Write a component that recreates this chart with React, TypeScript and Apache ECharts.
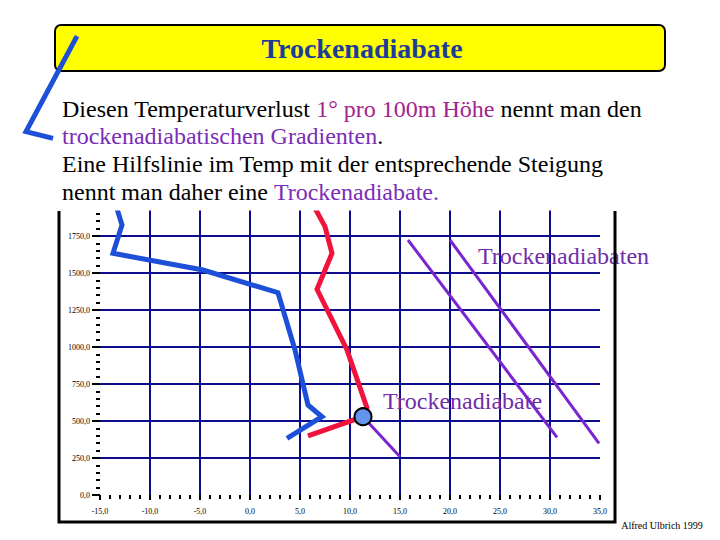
import React, { useEffect, useRef } from "react";
import * as echarts from "echarts";

// Temperature axis (°C) and height axis (m)
const xTicks = { min: -15, max: 35, interval: 5 };
const yTicks = { min: 0, max: 2000, interval: 250 };

// Dew point profile (blue) and its continuation over the header
const blueProfile: number[][] = [
  [-13.6, 2000], [-12.8, 1824], [-13.7, 1633], [-4.7, 1520], [2.8, 1367],
  [4.5, 980], [5.8, 608], [7.2, 529], [3.7, 382],
];
const blueUpper: number[][] = [
  [-17.3, 3101], [-22.4, 2455], [-19.7, 2410],
];
// Temperature profile (red)
const redProfile: number[][] = [
  [6.0, 2000], [7.5, 1813], [8.2, 1633], [6.7, 1390], [9.7, 980],
  [11.7, 588], [11.3, 529], [5.8, 399],
];
// Parcel point
const parcelPoint: number[][] = [[11.3, 529]];
// Dry adiabats
const adiabatShort: number[][] = [[11.3, 529], [15.0, 259]];
const adiabatA: number[][] = [[15.8, 1723], [30.7, 390]];
const adiabatB: number[][] = [[20.0, 1723], [34.9, 349]];

const titleText = "Trockenadiabate";
const bodyLines: [string, string][][] = [
  [["Diesen Temperaturverlust ", "k"], ["1° pro 100m Höhe", "m"], [" nennt man den", "k"]],
  [["trockenadiabatischen Gradienten", "p"], [".", "k"]],
  [["Eine Hilfslinie im Temp mit der entsprechende Steigung", "k"]],
  [["nennt man daher eine ", "k"], ["Trockenadiabate.", "p"]],
];
const labelAdiabats = "Trockenadiabaten";
const labelAdiabat = "Trockenadiabate";
const footer = "Alfred Ulbrich 1999";

const SERIF = "Liberation Serif";
const BODY_FONT = `24px "${SERIF}"`;
const BLUE = "#1e4fd8";
const RED = "#f0143c";
const PURPLE = "#7a26d0";
const GRID = "#0c0c8c";
const segColors: Record<string, string> = { k: "#000", m: "#a3238f", p: "#7a2cb8" };

const fmt = (v: number) => v.toFixed(1).replace(".", ",");

export default function App() {
  const ref = useRef<HTMLDivElement>(null);
  useEffect(() => {
    if (!ref.current) return;
    const chart = echarts.init(ref.current, null, { renderer: "svg" });
    const ctx = document.createElement("canvas").getContext("2d");
    const measure = (t: string) => {
      if (!ctx) return t.length * 11;
      ctx.font = BODY_FONT;
      return ctx.measureText(t).width;
    };
    const lineCenters = [109, 136, 164, 192];
    const bodyElements: any[] = [];
    bodyLines.forEach((segs, i) => {
      let x = 62;
      segs.forEach(([t, c]) => {
        bodyElements.push({
          type: "text",
          z: 52,
          style: {
            x,
            y: lineCenters[i],
            text: t,
            font: BODY_FONT,
            fill: segColors[c],
            textAlign: "left",
            textVerticalAlign: "middle",
          },
        });
        x += measure(t);
      });
    });
    const axisCommon = {
      type: "value",
      axisLine: { show: false, onZero: false },
      axisTick: { show: true, lineStyle: { color: "#000", width: 2 } },
      minorTick: { show: true, splitNumber: 5, lineStyle: { color: "#000", width: 2 } },
      splitLine: {
        show: true,
        showMinLine: false,
        showMaxLine: false,
        lineStyle: { color: GRID, width: 2 },
      },
    };
    const lineSeries = (data: number[][], color: string, width: number, z: number) => ({
      type: "line",
      data,
      showSymbol: false,
      symbol: "none",
      z,
      lineStyle: { color, width, join: "miter", cap: "butt" },
      silent: true,
    });
    chart.setOption({
      animation: false,
      backgroundColor: "#fff",
      grid: { left: 100, right: 120, top: 199, bottom: 45 },
      xAxis: {
        ...axisCommon,
        min: xTicks.min,
        max: xTicks.max,
        interval: xTicks.interval,
        axisTick: { ...axisCommon.axisTick, length: 5 },
        minorTick: { ...axisCommon.minorTick, length: 4 },
        axisLabel: { margin: 12, fontSize: 8, fontFamily: SERIF, color: "#000", formatter: fmt },
      },
      yAxis: {
        ...axisCommon,
        min: yTicks.min,
        max: yTicks.max,
        interval: yTicks.interval,
        axisTick: { ...axisCommon.axisTick, length: 8 },
        minorTick: { ...axisCommon.minorTick, length: 4 },
        axisLabel: {
          margin: 10,
          fontSize: 8,
          fontFamily: SERIF,
          color: "#000",
          formatter: fmt,
          showMaxLabel: false,
        },
      },
      series: [
        lineSeries(blueProfile, BLUE, 5, 3),
        lineSeries(redProfile, RED, 5, 4),
        lineSeries(adiabatShort, PURPLE, 3, 3),
        lineSeries(adiabatA, PURPLE, 3, 3),
        lineSeries(adiabatB, PURPLE, 3, 3),
        {
          type: "scatter",
          data: parcelPoint,
          symbol: "circle",
          symbolSize: 17,
          z: 10,
          silent: true,
          itemStyle: { color: "#6495ed", borderColor: "#000", borderWidth: 2, opacity: 1 },
        },
        {
          type: "custom",
          data: [blueUpper[0]],
          clip: false,
          z: 60,
          silent: true,
          renderItem: (_params: any, api: any) => ({
            type: "polyline",
            shape: { points: blueUpper.map((p) => api.coord(p)) },
            style: { stroke: BLUE, lineWidth: 5, fill: null, lineJoin: "miter" },
          }),
        },
      ],
      graphic: [
        {
          type: "rect",
          z: 50,
          shape: { x: 56, y: 150, width: 660, height: 60.5 },
          style: { fill: "#fff" },
        },
        {
          type: "polyline",
          z: 49,
          shape: { points: [[59, 211], [59, 522], [615, 522], [615, 211]] },
          style: { stroke: "#000", lineWidth: 3, fill: null },
        },
        {
          type: "rect",
          z: 50,
          shape: { x: 55, y: 25, width: 610, height: 46, r: 6 },
          style: { fill: "#ffff00", stroke: "#000", lineWidth: 2 },
        },
        {
          type: "text",
          z: 52,
          style: {
            x: 362,
            y: 48,
            text: titleText,
            font: `bold 28px "${SERIF}"`,
            fill: "#1c3c9c",
            textAlign: "center",
            textVerticalAlign: "middle",
          },
        },
        ...bodyElements,
        {
          type: "text",
          z: 30,
          style: {
            x: 478,
            y: 256,
            text: labelAdiabats,
            font: BODY_FONT,
            fill: "#6f2da8",
            textAlign: "left",
            textVerticalAlign: "middle",
          },
        },
        {
          type: "text",
          z: 30,
          style: {
            x: 383,
            y: 401,
            text: labelAdiabat,
            font: BODY_FONT,
            fill: "#6f2da8",
            textAlign: "left",
            textVerticalAlign: "middle",
          },
        },
        {
          type: "text",
          z: 30,
          style: {
            x: 662,
            y: 525,
            text: footer,
            font: `10px "${SERIF}"`,
            fill: "#000",
            textAlign: "center",
            textVerticalAlign: "middle",
          },
        },
      ],
    });
    return () => chart.dispose();
  }, []);
  return (
    <div
      ref={ref}
      style={{ position: "fixed", left: 0, top: 0, width: 720, height: 540, background: "#fff" }}
    />
  );
}
